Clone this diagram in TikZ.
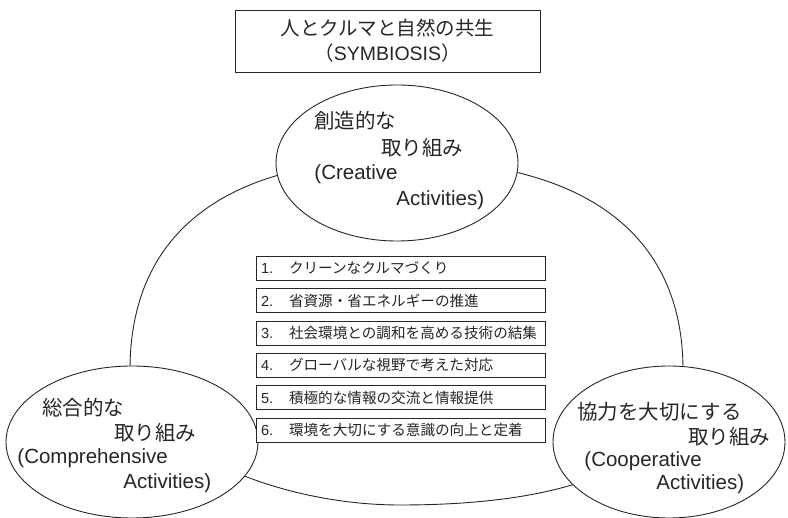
\documentclass[tikz,border=0pt]{standalone}
\usepackage{fontspec}
\setmainfont{Liberation Sans}
\newfontfamily\jp{Noto Sans CJK JP}
\usetikzlibrary{shapes.geometric}
\begin{document}
\begin{tikzpicture}[x=1pt,y=-1pt,
  line width=0.9pt,
  every node/.style={inner sep=0pt, text=black!85},
  bubble/.style={draw=black!85, fill=white, ellipse, inner sep=0pt},
  itembox/.style={draw=black!85, fill=white, minimum width=289pt, minimum height=24pt,
     text width=279pt, align=left, inner xsep=5pt, font=\fontsize{14.6}{17}\selectfont},
  lbl/.style={anchor=west, font=\fontsize{20.5}{24}\selectfont}]
\useasboundingbox (0,0) rectangle (788,518);
% big surrounding shape
\draw[black!85] (130,370) .. controls (130,233.5) and (224.5,160) .. (400,160)
  .. controls (584,160) and (683,233.5) .. (683,370)
  .. controls (683,457.75) and (584,505) .. (400,505)
  .. controls (265,505) and (130,437.5) .. cycle;
% title box
\node[draw=black!85, minimum width=305pt, minimum height=62pt,
      align=center, font=\fontsize{19.5}{25}\selectfont] (title) at (387.5,41)
  {{\jp 人とクルマと自然の共生}\\{\jp （}SYMBIOSIS{\jp ）}};
% three bubbles
\node[bubble, minimum width=242pt, minimum height=156pt] (crea) at (397,163) {};
\node[bubble, minimum width=252pt, minimum height=152pt] (comp) at (132,442) {};
\node[bubble, minimum width=232pt, minimum height=152pt] (coop) at (669,442) {};
% bubble texts
\node[lbl] (c1) at (314,121) {\jp 創造的な};
\node[lbl] (c2) at (381,148) {\jp 取り組み};
\node[lbl] (c3) at (314,174) {(Creative};
\node[lbl] (c4) at (396,200) {Activities)};
\node[lbl] (m1) at (42,408) {\jp 総合的な};
\node[lbl] (m2) at (114,433) {\jp 取り組み};
\node[lbl] (m3) at (17,458) {(Comprehensive};
\node[lbl] (m4) at (123,483) {Activities)};
\node[lbl] (p1) at (577,412) {\jp 協力を大切にする};
\node[lbl] (p2) at (688,437) {\jp 取り組み};
\node[lbl] (p3) at (584,461) {(Cooperative};
\node[lbl] (p4) at (656,484) {Activities)};
% list boxes
\node[itembox] (b1) at (400.5,268) {\makebox[28pt][l]{1.}{\jp クリーンなクルマづくり}};
\node[itembox] (b2) at (400.5,300.5) {\makebox[28pt][l]{2.}{\jp 省資源・省エネルギーの推進}};
\node[itembox] (b3) at (400.5,333) {\makebox[28pt][l]{3.}{\jp 社会環境との調和を高める技術の結集}};
\node[itembox] (b4) at (400.5,365) {\makebox[28pt][l]{4.}{\jp グローバルな視野で考えた対応}};
\node[itembox] (b5) at (400.5,397.5) {\makebox[28pt][l]{5.}{\jp 積極的な情報の交流と情報提供}};
\node[itembox] (b6) at (400.5,430) {\makebox[28pt][l]{6.}{\jp 環境を大切にする意識の向上と定着}};
\end{tikzpicture}
\end{document}
